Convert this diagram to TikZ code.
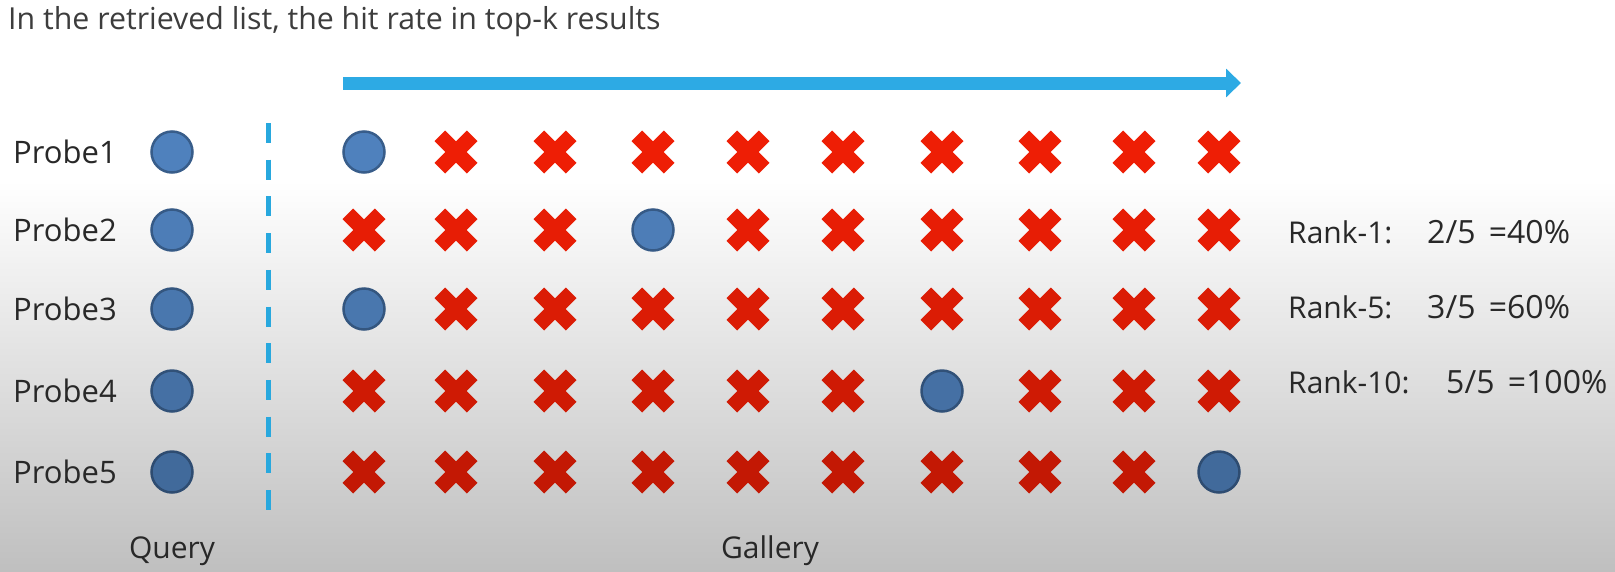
\documentclass[tikz,border=0pt]{standalone}
\usepackage{fontspec}
\setmainfont{Open Sans}
\usetikzlibrary{arrows.meta}
\definecolor{cblue}{RGB}{79,129,189}
\definecolor{cbluedark}{RGB}{56,93,138}
\definecolor{xred}{RGB}{238,30,5}
\definecolor{acol}{RGB}{45,170,228}
\definecolor{dcol}{RGB}{40,168,222}
\definecolor{tcol}{RGB}{40,40,40}
\tikzset{
  hit/.style={circle, inner sep=0pt, minimum size=41pt, line width=2.5pt,
    fill=cblue!#1!black, draw=cbluedark!#1!black},
  pics/xmark/.style={code={
    \fill[xred!#1!black, rotate=45] (22.9,7.5) -- (7.5,7.5) -- (7.5,22.9) -- (-7.5,22.9)
      -- (-7.5,7.5) -- (-22.9,7.5) -- (-22.9,-7.5) -- (-7.5,-7.5) -- (-7.5,-22.9)
      -- (7.5,-22.9) -- (7.5,-7.5) -- (22.9,-7.5) -- cycle;}},
  lbl/.style={inner sep=0pt, text=tcol, font=\fontsize{31pt}{36pt}\selectfont},
  ttl/.style={inner sep=0pt, text=tcol!90!white, font=\fontsize{30.3pt}{36pt}\selectfont},
  rk/.style={inner sep=0pt, text=tcol, font=\fontsize{30pt}{36pt}\selectfont},
  rv/.style={inner sep=0pt, text=tcol, font=\fontsize{32pt}{38pt}\selectfont},
}
\begin{document}
\begin{tikzpicture}[x=1pt,y=-1pt]
\useasboundingbox (0,0) rectangle (1615,571);
\fill[white] (0,0) rectangle (1615,181);
\shade[top color=white, bottom color=black!25] (0,180) rectangle (1615,571);

% title
\node[ttl, anchor=base west] (title) at (8,29) {In the retrieved list, the hit rate in top-k results};

% arrow
\coordinate (a0) at (343,83);
\coordinate (a1) at (1241,83);
\draw[acol, line width=13pt, -{Triangle[length=15pt,width=28pt]}] (a0) -- (a1);

% dashed separator
\coordinate (d0) at (268,123);
\coordinate (d1) at (268,510);
\draw[dcol, line width=5pt, dash pattern=on 20pt off 16.7pt] (d0) -- (d1);

% rows
\foreach \r/\y/\d/\h in {1/152/100/1, 2/230/97/4, 3/309/92/1, 4/391/87/7, 5/472/82/10}{
  \node[lbl, anchor=base west] (p\r) at (13,\y+11.5) {Probe\r};
  \node[hit=\d] (q\r) at (172,\y) {};
  \foreach \c/\x in {1/364,2/456,3/555,4/653,5/748,6/843,7/942,8/1040,9/1134,10/1219}{
    \ifnum\c=\h
      \node[hit=\d] (g\r-\c) at (\x,\y) {};
    \else
      \pic (g\r-\c) at (\x,\y) {xmark=\d};
    \fi
  }
}

% bottom labels
\node[rk, anchor=base] (query) at (172,558) {Query};
\node[rk, anchor=base] (gallery) at (770,558) {Gallery};

% rank results
\node[rk, anchor=base west] (r1) at (1288,243) {Rank-1:};
\node[rv, anchor=base west] (v1) at (1427,243) {2/5\hspace{5pt} =40\%};
\node[rk, anchor=base west] (r5) at (1288,318) {Rank-5:};
\node[rv, anchor=base west] (v5) at (1427,318) {3/5\hspace{5pt} =60\%};
\node[rk, anchor=base west] (r10) at (1288,393) {Rank-10:};
\node[rv, anchor=base west] (v10) at (1446,393) {5/5\hspace{5pt} =100\%};
\end{tikzpicture}
\end{document}
